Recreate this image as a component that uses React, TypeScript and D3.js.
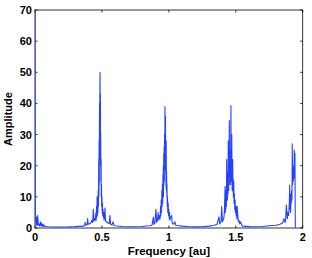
import { line, scaleLinear } from 'd3';

const width = 312;
const height = 258;
const margin = { top: 10, right: 9.3, bottom: 30, left: 35 };

// spectrum samples: frequency [au] and amplitude
const freqs = [
	0, 0.003, 0.008, 0.012, 0.016, 0.02, 0.025, 0.03, 0.035, 0.04, 0.045, 0.05,
	0.055, 0.06, 0.065, 0.07, 0.08, 0.1, 0.15, 0.2, 0.25, 0.3, 0.35,
	0.36, 0.37, 0.375, 0.38, 0.39, 0.393, 0.397, 0.41, 0.42, 0.425, 0.43, 0.436,
	0.44, 0.445, 0.45, 0.455, 0.457, 0.46, 0.462, 0.464, 0.466, 0.468, 0.47,
	0.472, 0.474, 0.476, 0.477, 0.479, 0.48, 0.482, 0.483, 0.485, 0.486, 0.487,
	0.488, 0.489, 0.49, 0.491, 0.492, 0.494, 0.495, 0.497, 0.498, 0.5, 0.502,
	0.504, 0.506, 0.508, 0.51, 0.513, 0.516, 0.52, 0.523, 0.527, 0.535, 0.545,
	0.555, 0.56, 0.565, 0.575, 0.583, 0.59, 0.6, 0.65, 0.7, 0.75, 0.8, 0.85,
	0.87, 0.875, 0.884, 0.888, 0.895, 0.904, 0.908, 0.915, 0.92, 0.925, 0.93,
	0.935, 0.938, 0.94, 0.943, 0.945, 0.948, 0.95, 0.952, 0.954, 0.956, 0.957,
	0.959, 0.96, 0.962, 0.963, 0.965, 0.966, 0.968, 0.969, 0.97, 0.971, 0.972,
	0.973, 0.975, 0.976, 0.977, 0.979, 0.98, 0.982, 0.983, 0.985, 0.986, 0.988,
	0.99, 0.992, 0.995, 0.997, 1.0, 1.003, 1.005, 1.008, 1.01, 1.015, 1.021,
	1.025, 1.035, 1.046, 1.05, 1.06, 1.1, 1.15, 1.2, 1.25, 1.3, 1.33, 1.34,
	1.36, 1.375, 1.38, 1.39, 1.395, 1.4, 1.41, 1.415, 1.42, 1.422, 1.424, 1.426,
	1.428, 1.43, 1.432, 1.434, 1.436, 1.438, 1.44, 1.442, 1.444, 1.446, 1.447,
	1.449, 1.452, 1.453, 1.455, 1.457, 1.458, 1.46, 1.461, 1.463, 1.464, 1.465,
	1.467, 1.469, 1.47, 1.472, 1.473, 1.475, 1.477, 1.479, 1.48, 1.482, 1.485,
	1.487, 1.49, 1.492, 1.495, 1.497, 1.5, 1.503, 1.505, 1.508, 1.51, 1.519,
	1.523, 1.53, 1.535, 1.544, 1.55, 1.6, 1.65, 1.7, 1.75, 1.8, 1.83, 1.85,
	1.86, 1.868, 1.872, 1.878, 1.885, 1.89, 1.895, 1.9, 1.903, 1.905, 1.907,
	1.91, 1.912, 1.915, 1.917, 1.92, 1.922, 1.925, 1.927, 1.93, 1.932, 1.935,
	1.937, 1.94, 1.942, 1.945, 1.948,
];
const amps = [
	80, 3, 1, 3.5, 0.8, 4, 1, 1.2, 0.6, 2, 0.7, 1.5,
	0.5, 1.2, 0.5, 0.8, 0.5, 0.4, 0.3, 0.3, 0.35, 0.45, 0.6,
	0.6, 0.8, 1.8, 0.9, 1.1, 3, 1.2, 1.4, 1.8, 2.5, 1.8, 6,
	2.2, 3, 2.5, 5, 2.5, 7, 3.5, 10, 4, 8, 5,
	12, 7, 22, 10, 28, 14, 40, 22, 45, 50, 28,
	38, 43, 20, 30, 15, 22, 10, 14, 7, 10, 5,
	8, 4, 6, 3.5, 5, 2.5, 4, 6.4, 2.2, 2, 1.6,
	1.4, 4, 1.2, 1, 2, 0.8, 0.7, 0.5, 0.4, 0.4, 0.5, 0.7,
	0.8, 1, 3.5, 1.2, 1.5, 6, 1.8, 2.5, 5, 2.5, 4,
	3, 7, 4, 9, 5, 12, 7, 14, 8, 17, 11,
	20, 10, 24, 14, 26, 15, 30, 19, 22, 39, 24,
	28, 36, 18, 22, 13, 28, 12, 18, 10, 14, 7,
	10, 5, 8, 4, 6, 3, 5, 2.5, 3, 3.5, 4,
	1.5, 1.2, 2, 1, 0.8, 0.6, 0.4, 0.35, 0.4, 0.6, 0.8, 0.9,
	1.2, 3.6, 1.3, 2, 6.9, 2, 3, 5, 13.3, 5, 9, 6,
	12, 7, 22, 10, 16, 9, 18, 11, 28, 15, 12,
	20, 34.5, 18, 24, 14, 25, 16, 14, 30, 39.3, 22,
	26, 15, 30, 17, 12, 18, 22, 12, 16, 10, 15,
	8, 11, 6, 9, 5, 6, 4, 7, 3, 7,
	2, 2.5, 1.3, 2, 1, 0.6, 0.45, 0.4, 0.5, 0.7, 0.9, 1.2,
	1.6, 3, 1.8, 2.5, 7.4, 3, 5, 4, 8, 13.8, 6,
	9, 5, 11, 8, 12, 9, 27, 14, 20, 15, 18,
	16, 25, 20, 24, 0,
];
const xTicks = [0, 0.5, 1, 1.5, 2];
const yTicks = [0, 10, 20, 30, 40, 50, 60, 70];

const font = '"Liberation Sans", Arial, sans-serif';

const App = () => {
	const innerWidth = width - margin.left - margin.right;
	const innerHeight = height - margin.top - margin.bottom;

	const xScale = scaleLinear().domain([0, 2]).range([0, innerWidth]);
	const yScale = scaleLinear().domain([0, 70]).range([innerHeight, 0]);

	const data = freqs.map((f, i) => [f, amps[i]] as [number, number]);
	const path =
		line<[number, number]>()
			.x(d => xScale(d[0]))
			.y(d => yScale(d[1]))(data) || '';

	return (
		<svg
			width={width}
			height={height}
			style={{ position: 'absolute', left: 0, top: 0 }}
			fontFamily={font}
			fontWeight="bold"
		>
			<rect width={width} height={height} fill="white" />
			<defs>
				<clipPath id="plot-clip">
					<rect x={0} y={0} width={innerWidth} height={innerHeight} />
				</clipPath>
			</defs>
			<g transform={`translate(${margin.left},${margin.top})`}>
				<rect
					width={innerWidth}
					height={innerHeight}
					fill="none"
					stroke="#000"
					strokeWidth={0.8}
				/>
				{xTicks.map(t => (
					<g key={t} transform={`translate(${xScale(t)},0)`}>
						<line y1={innerHeight} y2={innerHeight - 2.5} stroke="#000" strokeWidth={0.8} />
						<line y1={0} y2={2.5} stroke="#000" strokeWidth={0.8} />
						<text
							y={innerHeight + 13}
							textAnchor="middle"
							fontSize={11}
							fill="#000"
						>
							{t}
						</text>
					</g>
				))}
				{yTicks.map(t => (
					<g key={t} transform={`translate(0,${yScale(t)})`}>
						<line x1={0} x2={2.5} stroke="#000" strokeWidth={0.8} />
						<line x1={innerWidth} x2={innerWidth - 2.5} stroke="#000" strokeWidth={0.8} />
						<text x={-3} dy="0.36em" textAnchor="end" fontSize={11} fill="#000">
							{t}
						</text>
					</g>
				))}
				<path
					d={path}
					fill="none"
					stroke="#2642ff"
					strokeWidth={1.1}
					strokeLinejoin="round"
					clipPath="url(#plot-clip)"
				/>
				<text
					x={innerWidth / 2}
					y={innerHeight + 27}
					textAnchor="middle"
					fontSize={11.5}
					fill="#000"
				>
					Frequency [au]
				</text>
				<text
					transform={`translate(${-margin.left + 12},${innerHeight / 2}) rotate(-90)`}
					textAnchor="middle"
					fontSize={11}
					fill="#000"
				>
					Amplitude
				</text>
			</g>
		</svg>
	);
};

export default App;
